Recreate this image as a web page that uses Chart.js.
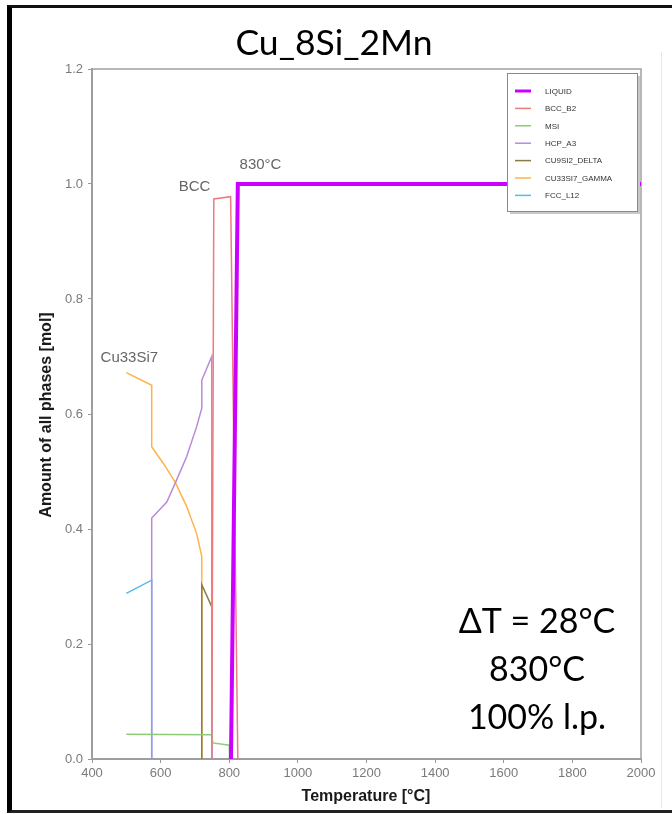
<!DOCTYPE html>
<html>
<head>
<meta charset="utf-8">
<script src="https://cdn.jsdelivr.net/npm/chart.js@4.4.1/dist/chart.umd.min.js"></script>
<style>
  html, body { margin: 0; padding: 0; background: #fff; overflow: hidden; }
  #wrap { position: relative; width: 672px; height: 814px; }
  #frame { position: absolute; left: 7px; top: 5px; width: 700px; height: 802px;
           border-left: 5px solid #000; border-top: 3px solid #111; border-bottom: 3px solid #222; }
  #edge { position: absolute; left: 661px; top: 52px; width: 1px; height: 756px; background: #e6e6e6; }
  canvas { position: absolute; left: 0; top: 0; }
</style>
</head>
<body>
<div id="wrap">
  <div id="frame"></div>
  <div id="edge"></div>
  <canvas id="c" width="672" height="814"></canvas>
</div>
<script>
// Phase amounts (mol) versus temperature (°C) for Cu_8Si_2Mn
const liquidT   = [805, 825, 2000];
const liquidAmt = [0, 1.0, 1.0];

const bccT   = [749, 755, 804, 825];
const bccAmt = [0, 0.974, 0.978, 0];

const msiT   = [500, 749, 752, 800, 801];
const msiAmt = [0.043, 0.042, 0.028, 0.024, 0];

const hcpT   = [574, 574, 618, 642, 676, 705, 720, 720, 749, 749];
const hcpAmt = [0, 0.419, 0.447, 0.479, 0.526, 0.578, 0.61, 0.659, 0.70, 0];

const deltaT   = [720, 720, 749, 749];
const deltaAmt = [0, 0.303, 0.265, 0];

const gammaT   = [500, 574, 574, 608, 642, 676, 705, 720, 720];
const gammaAmt = [0.672, 0.65, 0.543, 0.514, 0.482, 0.439, 0.392, 0.352, 0];

const fccT   = [500, 574, 574];
const fccAmt = [0.288, 0.311, 0];

const phaseNames = ['LIQUID', 'BCC_B2', 'MSI', 'HCP_A3', 'CU9SI2_DELTA', 'CU33SI7_GAMMA', 'FCC_L12'];

const xTicks = [400, 600, 800, 1000, 1200, 1400, 1600, 1800, 2000];
const yTicks = [0, 0.2, 0.4, 0.6, 0.8, 1.0, 1.2];

const pts = (t, a) => t.map((v, i) => ({ x: v, y: a[i] }));

const series = [
  { t: liquidT, a: liquidAmt, color: '#cc00ff', w: 4 },
  { t: bccT,    a: bccAmt,    color: '#ef7b7b', w: 1.5 },
  { t: msiT,    a: msiAmt,    color: '#8ccc78', w: 1.5 },
  { t: hcpT,    a: hcpAmt,    color: '#b98ad8', w: 1.5 },
  { t: deltaT,  a: deltaAmt,  color: '#8a7c44', w: 1.5 },
  { t: gammaT,  a: gammaAmt,  color: '#ffb24a', w: 1.5 },
  { t: fccT,    a: fccAmt,    color: '#55bbee', w: 1.5 }
];

const datasets = series.map((s, i) => ({
  label: phaseNames[i],
  data: pts(s.t, s.a),
  borderColor: s.color,
  backgroundColor: s.color,
  borderWidth: s.w,
  showLine: true,
  pointRadius: 0,
  tension: 0,
  fill: false
}));

// frame of the plot area (top and right edges)
const plotFrame = {
  id: 'plotFrame',
  beforeDatasetsDraw(chart) {
    const { ctx, chartArea: a } = chart;
    ctx.save();
    ctx.strokeStyle = '#a0a0a0';
    ctx.lineWidth = 1.5;
    ctx.strokeRect(a.left, a.top, a.right - a.left, a.bottom - a.top);
    ctx.restore();
  }
};

// legend box inside the plot, annotations and titles
const extras = {
  id: 'extras',
  afterDatasetsDraw(chart) {
    const { ctx } = chart;
    const xs = chart.scales.x, ys = chart.scales.y;
    ctx.save();

    // legend
    const lx = 507, ly = 73, lw = 130, lh = 138;
    ctx.fillStyle = '#c8c8c8';
    ctx.fillRect(lx + 3, ly + 3, lw, lh);
    ctx.fillStyle = '#fff';
    ctx.fillRect(lx, ly, lw, lh);
    ctx.strokeStyle = '#8a8a8a';
    ctx.lineWidth = 1;
    ctx.strokeRect(lx + 0.5, ly + 0.5, lw, lh);
    ctx.font = '8px "Liberation Sans", Arial, sans-serif';
    ctx.textBaseline = 'middle';
    ctx.textAlign = 'left';
    chart.data.datasets.forEach((d, i) => {
      const y = 91 + i * 17.4;
      ctx.strokeStyle = d.borderColor;
      ctx.lineWidth = i === 0 ? 3 : 1.5;
      ctx.beginPath();
      ctx.moveTo(515, y);
      ctx.lineTo(531, y);
      ctx.stroke();
      ctx.fillStyle = '#333';
      ctx.fillText(d.label, 545, y + 0.5);
    });

    // phase labels
    ctx.fillStyle = '#666';
    ctx.font = '15px "Liberation Sans", Arial, sans-serif';
    ctx.textBaseline = 'middle';
    ctx.textAlign = 'right';
    ctx.fillText('BCC', xs.getPixelForValue(745), ys.getPixelForValue(0.995));
    ctx.textAlign = 'left';
    ctx.fillText('830°C', xs.getPixelForValue(830), ys.getPixelForValue(1.033));
    ctx.fillText('Cu33Si7', xs.getPixelForValue(425), ys.getPixelForValue(0.697));

    // summary
    ctx.fillStyle = '#000';
    ctx.font = '34px Lato, "Open Sans", sans-serif';
    ctx.textAlign = 'center';
    ctx.textBaseline = 'alphabetic';
    ctx.fillText('ΔT = 28°C', 537, 633);
    ctx.fillText('830°C', 537, 681);
    ctx.fillText('100% l.p.', 537, 729);

    // chart title
    ctx.font = '35.5px Lato, "Open Sans", sans-serif';
    ctx.fillText('Cu_8Si_2Mn', 334, 55);

    // axis titles
    ctx.fillStyle = '#1a1a1a';
    ctx.font = 'bold 16px "Liberation Sans", Arial, sans-serif';
    ctx.textBaseline = 'middle';
    ctx.fillText('Temperature [°C]', 366, 797);
    ctx.translate(47, 415);
    ctx.rotate(-Math.PI / 2);
    ctx.fillText('Amount of all phases [mol]', 0, 0);
    ctx.restore();
  }
};

new Chart(document.getElementById('c'), {
  type: 'scatter',
  data: { datasets },
  options: {
    responsive: false,
    devicePixelRatio: 1,
    animation: false,
    layout: { padding: { top: 69, right: 31, left: 0, bottom: 0 } },
    plugins: { legend: { display: false }, tooltip: { enabled: false }, title: { display: false } },
    scales: {
      x: {
        type: 'linear', min: 400, max: 2000,
        afterBuildTicks: s => { s.ticks = xTicks.map(v => ({ value: v })); },
        afterFit: s => { s.height = 55; },
        ticks: { color: '#7a7a7a', font: { size: 13, family: '"Liberation Sans", Arial, sans-serif' },
                 padding: 3, maxRotation: 0, autoSkip: false, callback: v => String(v) },
        grid: { drawOnChartArea: false, tickLength: 4, color: '#999' },
        border: { color: '#999', width: 2 }
      },
      y: {
        type: 'linear', min: 0, max: 1.2,
        afterBuildTicks: s => { s.ticks = yTicks.map(v => ({ value: v })); },
        afterFit: s => { s.width = 92; },
        ticks: { color: '#7a7a7a', font: { size: 13, family: '"Liberation Sans", Arial, sans-serif' },
                 padding: 5, autoSkip: false, callback: v => Number(v).toFixed(1) },
        grid: { drawOnChartArea: false, tickLength: 4, color: '#999' },
        border: { color: '#999', width: 2 }
      }
    }
  },
  plugins: [plotFrame, extras]
});
</script>
</body>
</html>
